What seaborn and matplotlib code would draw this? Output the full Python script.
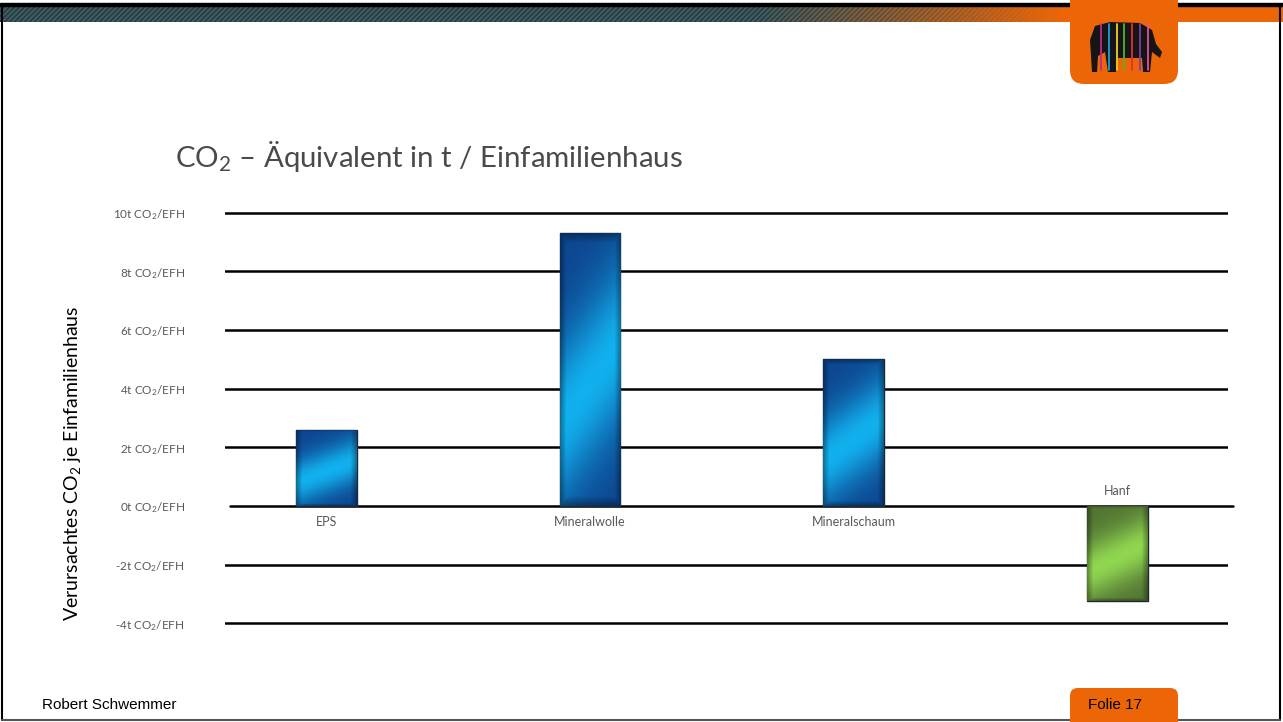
import numpy as np
import pandas as pd
import seaborn as sns
import matplotlib.pyplot as plt
from matplotlib.patches import FancyBboxPatch, Rectangle, Polygon
from matplotlib.colors import to_rgb

# Daten
materials = ['EPS', 'Mineralwolle', 'Mineralschaum', 'Hanf']
co2_t = [2.6, 9.3, 5.0, -3.25]
yticks = [-4, -2, 0, 2, 4, 6, 8, 10]
ytick_labels = [f'{v}t CO$_2$/EFH' for v in yticks]

sns.set_theme(style='white')
plt.rcParams['font.family'] = ['Lato', 'DejaVu Sans']
plt.rcParams['mathtext.fontset'] = 'custom'
plt.rcParams['mathtext.rm'] = 'Lato'
plt.rcParams['mathtext.it'] = 'Lato:italic'

W, H = 1283, 722
fig = plt.figure(figsize=(W / 100, H / 100), dpi=100)

# Folienrahmen / Deko in Pixelkoordinaten
deco = fig.add_axes([0, 0, 1, 1], zorder=0)
deco.set_xlim(0, W)
deco.set_ylim(H, 0)
deco.axis('off')

# Banner oben: gestreifter Verlauf grau-petrol -> orange
bh, bw = 17, W
yy, xx = np.mgrid[0:bh, 0:bw]
teal = np.array(to_rgb('#3d5a60'))
orange = np.array(to_rgb('#ec6608'))
f = np.clip((xx - 760) / 300, 0, 1)[..., None]
stripes = (((xx + yy) % 5) < 2).astype(float)[..., None]
base = teal * (1 - f) + orange * f
shade = 1 - 0.35 * stripes * (1 - f)
banner = np.clip(base * shade, 0, 1)
deco.imshow(banner, extent=(0, W, 22, 5), aspect='auto', zorder=1)
deco.add_patch(Rectangle((0, 3), W, 2.5, color='black', zorder=2))

# Logo-Box
deco.add_patch(FancyBboxPatch((1070, -30), 108, 114, boxstyle='round,pad=0,rounding_size=14',
                              fc='#ec6608', ec='none', zorder=3))
elephant = [(1092, 72), (1090, 40), (1095, 26), (1110, 22), (1140, 23), (1152, 30), (1156, 44),
            (1162, 52), (1160, 58), (1152, 52), (1150, 72), (1143, 72), (1142, 58), (1118, 58),
            (1116, 72), (1108, 72), (1105, 52), (1098, 56), (1097, 72)]
deco.add_patch(Polygon(elephant, closed=True, fc='#151515', ec='none', zorder=4))
for x, c in zip([1101, 1109, 1117, 1124, 1132, 1140, 1148],
                ['#c0288a', '#1aa0e0', '#f0d020', '#58b030', '#e03030', '#8040a0', '#e050a0']):
    deco.plot([x, x], [24, 70], color=c, lw=1.3, zorder=5)

# Rahmen
deco.plot([2, 2], [5, 720], color='black', lw=1.5, zorder=2)
deco.plot([1280, 1280], [5, 720], color='black', lw=1.5, zorder=2)
deco.plot([2, 1280], [720, 720], color='#555555', lw=1.5, zorder=2)

# Fußzeile
deco.add_patch(FancyBboxPatch((1070, 688), 108, 60, boxstyle='round,pad=0,rounding_size=8',
                              fc='#ec6608', ec='none', zorder=3))
deco.text(42, 705, 'Robert Schwemmer', fontsize=11, family='Liberation Sans',
          va='center', ha='left', color='black', zorder=4)
deco.text(1088, 705, 'Folie 17', fontsize=11, family='Liberation Sans',
          va='center', ha='left', color='black', zorder=4)

# Diagramm
df = pd.DataFrame({'Material': materials, 'CO2': co2_t})
ax = fig.add_axes([225 / W, 1 - 638 / H, 1003 / W, 440 / H], zorder=1)
ax.patch.set_alpha(0)
sns.barplot(data=df, x='Material', y='CO2', hue='Material',
            palette=['#1670b8', '#1670b8', '#1670b8', '#6aa040'],
            width=0.23, saturation=1, legend=False, ax=ax, zorder=3)


def bevel(dark, light, n=200, m=60):
    yy, xx = np.mgrid[0:1:n * 1j, 0:1:m * 1j]
    t = np.exp(-((yy - 0.45 - 0.3 * (xx - 0.5)) / 0.3) ** 2)[..., None]
    img = np.array(to_rgb(dark)) * (1 - t) + np.array(to_rgb(light)) * t
    ex = np.clip(np.minimum(xx, 1 - xx) / 0.1, 0, 1)
    ey = np.clip(np.minimum(yy, 1 - yy) / 0.035, 0, 1)
    fac = 0.65 + 0.35 * np.minimum(ex, ey)
    return np.clip(img * fac[..., None], 0, 1)


grads = [('#0d4690', '#12b0ee'), ('#0d4690', '#12b0ee'), ('#0d4690', '#12b0ee'), ('#527433', '#90d650')]
for p, (d, l) in zip(ax.patches, grads):
    x0, y0 = p.get_x(), p.get_y()
    x1, y1 = x0 + p.get_width(), y0 + p.get_height()
    im = ax.imshow(bevel(d, l), extent=(x0, x1, min(y0, y1), max(y0, y1)),
                   origin='lower', aspect='auto', zorder=4)
    im.set_clip_path(p)
    p.set_edgecolor('#1c2838')
    p.set_linewidth(1.0)

ax.set_xlim(-0.384, 3.42)
ax.set_ylim(-4.5, 10.5)
ax.set_yticks(yticks)
ax.set_yticklabels(ytick_labels, fontsize=8.5, color='#595959')
ax.tick_params(axis='y', length=0, pad=29)
ax.set_xticks([])
ax.set_xlabel('')
ax.set_ylabel('')
for s in ax.spines.values():
    s.set_visible(False)
for v in yticks:
    if v == 0:
        ax.axhline(v, xmin=0.005, xmax=1.005, color='black', lw=1.8, zorder=2, clip_on=False)
    else:
        ax.axhline(v, color='black', lw=1.8, zorder=2)

for i, (m, v) in enumerate(zip(materials, co2_t)):
    off = -11.5 if v >= 0 else 11
    ax.annotate(m, (i, 0), xytext=(0, off), textcoords='offset points',
                ha='center', va='center', fontsize=9, color='#595959')

fig.text(175 / W, 1 - 157 / H, 'CO$_2$ – Äquivalent in t / Einfamilienhaus',
         fontsize=21.2, color='#4a4a4a', ha='left', va='center')
fig.text(73 / W, 1 - 463 / H, 'Verursachtes CO$_2$ je Einfamilienhaus',
         fontsize=14, color='black', rotation=90, ha='center', va='center')

fig.savefig('out.png', dpi=100)
